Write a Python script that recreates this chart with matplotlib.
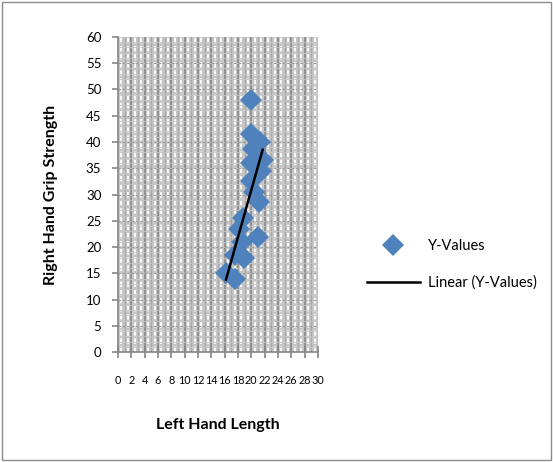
import numpy as np
import matplotlib.pyplot as plt
from matplotlib.patches import Rectangle

plt.rcParams['font.family'] = ['Lato', 'DejaVu Sans']

# left hand length vs right hand grip strength
left_hand = [20.0, 19.9, 21.3, 20.2, 21.7, 20.0, 21.4, 20.0, 20.4,
             21.2, 18.8, 18.2, 21.0, 18.6, 17.6, 18.9, 16.2, 17.6]
grip = [48.0, 41.5, 40.0, 38.7, 36.5, 36.0, 34.5, 32.5, 30.5,
        28.5, 25.5, 23.5, 22.0, 21.0, 18.5, 18.0, 15.0, 14.0]
x_ticks = list(range(0, 31, 2))
y_ticks = list(range(0, 61, 5))

blue = '#4F81BD'

fig = plt.figure(figsize=(5.53, 4.62), dpi=100)
fig.patches.append(Rectangle((0.004, 0.004), 0.992, 0.992, transform=fig.transFigure,
                             fill=False, edgecolor='#8C8C8C', lw=1.0))

ax = fig.add_axes([0.2134, 0.238, 0.3616, 0.682])
ax.set_xlim(0, 30)
ax.set_ylim(0, 60)
ax.set_facecolor('#C6C6C6')

# dense grid: dashed white minor lines, grey major lines
for xv in np.arange(0.5, 30, 0.5):
    if xv % 2 == 0:
        ax.axvline(xv, color='#8E8E8E', lw=1.3, zorder=1)
    elif xv % 1 == 0:
        ax.axvline(xv, color='#A8A8A8', lw=1.0, zorder=1)
    else:
        ax.axvline(xv, color='white', lw=1.3, ls=(0, (3, 1.5)), zorder=1)
for yv in np.arange(1, 60, 1):
    ax.axhline(yv, color='#C6C6C6', lw=0.6, zorder=1.5)
for yv in y_ticks[1:-1]:
    ax.axhline(yv, color='#9A9A9A', lw=0.8, ls=(0, (2, 2)), zorder=1.5)

ax.plot(left_hand, grip, ls='none', marker='D', ms=11.5, color=blue,
        markeredgewidth=0, zorder=3, label='Y-Values')

slope, intercept = np.polyfit(left_hand, grip, 1)
fx = np.array([min(left_hand), max(left_hand)])
ax.plot(fx, slope * fx + intercept, color='black', lw=1.8, zorder=4,
        label='Linear (Y-Values)')

for s in ['top', 'right']:
    ax.spines[s].set_visible(False)
for s in ['left', 'bottom']:
    ax.spines[s].set_color('#868686')
    ax.spines[s].set_linewidth(1.2)

ax.set_xticks(x_ticks)
ax.set_yticks(y_ticks)
ax.tick_params(axis='x', direction='inout', length=9, width=1.2, color='#868686',
               pad=12, labelsize=7.8)
ax.tick_params(axis='y', direction='out', length=4, width=1.2, color='#868686',
               pad=8, labelsize=9.5)

ax.set_xlabel('Left Hand Length', fontsize=11.5, fontweight='bold', labelpad=23)
ax.set_ylabel('Right Hand Grip Strength', fontsize=11.5, fontweight='bold', labelpad=20)

fig.legend(loc='center left', bbox_to_anchor=(0.64, 0.428), frameon=False,
           fontsize=10.5, handlelength=3.6, labelspacing=1.55, handletextpad=0.6)

fig.savefig('out.png', dpi=100)
